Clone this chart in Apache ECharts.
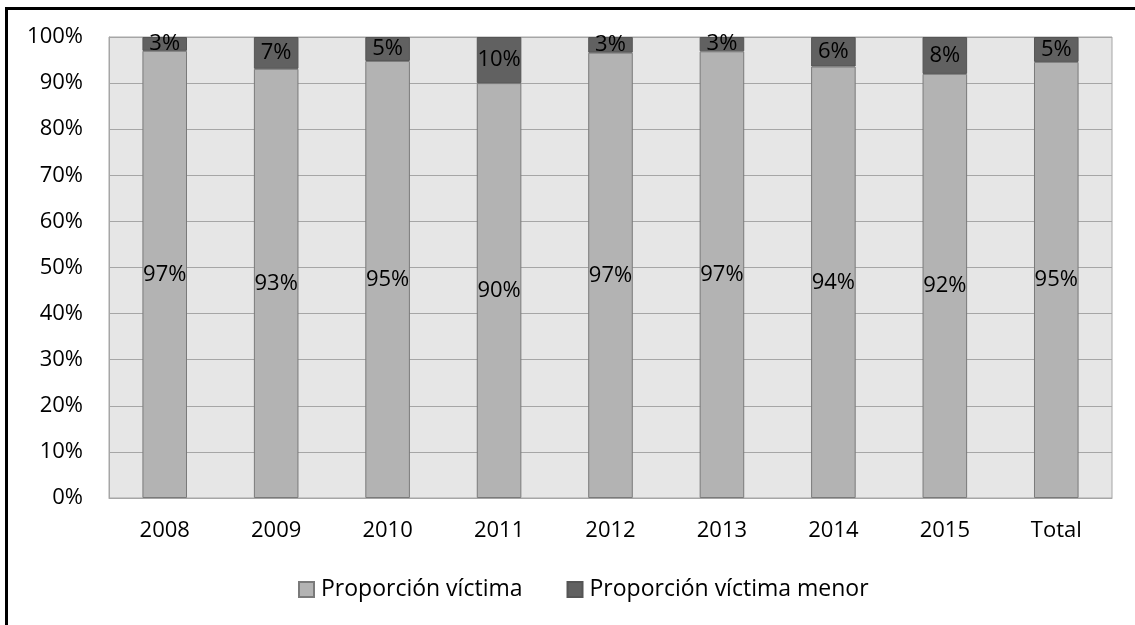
<!DOCTYPE html>
<html><head><meta charset="utf-8">
<script src="https://cdn.jsdelivr.net/npm/echarts@6/dist/echarts.min.js"></script>
<style>
html,body{margin:0;padding:0;background:#fff;}
#c{width:1135px;height:625px;}
#frame{position:absolute;left:5px;top:7px;width:1140px;height:640px;border-left:3px solid #000;border-top:3px solid #000;pointer-events:none;}
</style></head>
<body>
<div id="c"></div>
<div id="frame"></div>
<script>
const categories = ['2008','2009','2010','2011','2012','2013','2014','2015','Total'];
const victima = [97.0, 93.1, 94.8, 90.0, 96.6, 96.9, 93.6, 92.0, 94.6];
const victimaMenor = [3.0, 6.9, 5.2, 10.0, 3.4, 3.1, 6.4, 8.0, 5.4];
const seriesNames = ['Proporción víctima', 'Proporción víctima menor'];

const FONT = 'Open Sans';
const chart = echarts.init(document.getElementById('c'), null, {renderer:'canvas'});
const lbl = {show:true, position:'inside', color:'#000', fontFamily:FONT, fontSize:22,
  formatter: p => Math.round(p.value) + '%'};
chart.setOption({
  animation:false,
  textStyle:{fontFamily:FONT},
  grid:{left:109, right:23, top:37, bottom:127, show:true, backgroundColor:'#e6e6e6', borderColor:'#a6a6a6', borderWidth:1},
  legend:{left:293, top:573, itemWidth:15, itemHeight:15, itemGap:44, icon:'rect',
    textStyle:{fontFamily:FONT, fontSize:23, color:'#000', padding:[0,0,0,2]},
    data:seriesNames},
  xAxis:{type:'category', data:categories,
    axisLine:{show:true, lineStyle:{color:'#a6a6a6'}}, axisTick:{show:false},
    axisLabel:{color:'#000', fontFamily:FONT, fontSize:22, margin:22}},
  yAxis:{type:'value', min:0, max:100, interval:10,
    axisLine:{show:true, lineStyle:{color:'#a6a6a6'}}, axisTick:{show:false},
    splitLine:{lineStyle:{color:'#a6a6a6', width:1}},
    axisLabel:{color:'#000', fontFamily:FONT, fontSize:22, margin:26, formatter:'{value}%'}},
  series:[
    {name:seriesNames[0], type:'bar', stack:'s', data:victima, barWidth:'40%',
     itemStyle:{color:'#b3b3b3', borderColor:'#7a7a7a', borderWidth:1}, label:lbl},
    {name:seriesNames[1], type:'bar', stack:'s', data:victimaMenor, barWidth:'40%',
     itemStyle:{color:'#616161', borderColor:'#555', borderWidth:1}, label:lbl}
  ]
});
</script>
</body></html>
